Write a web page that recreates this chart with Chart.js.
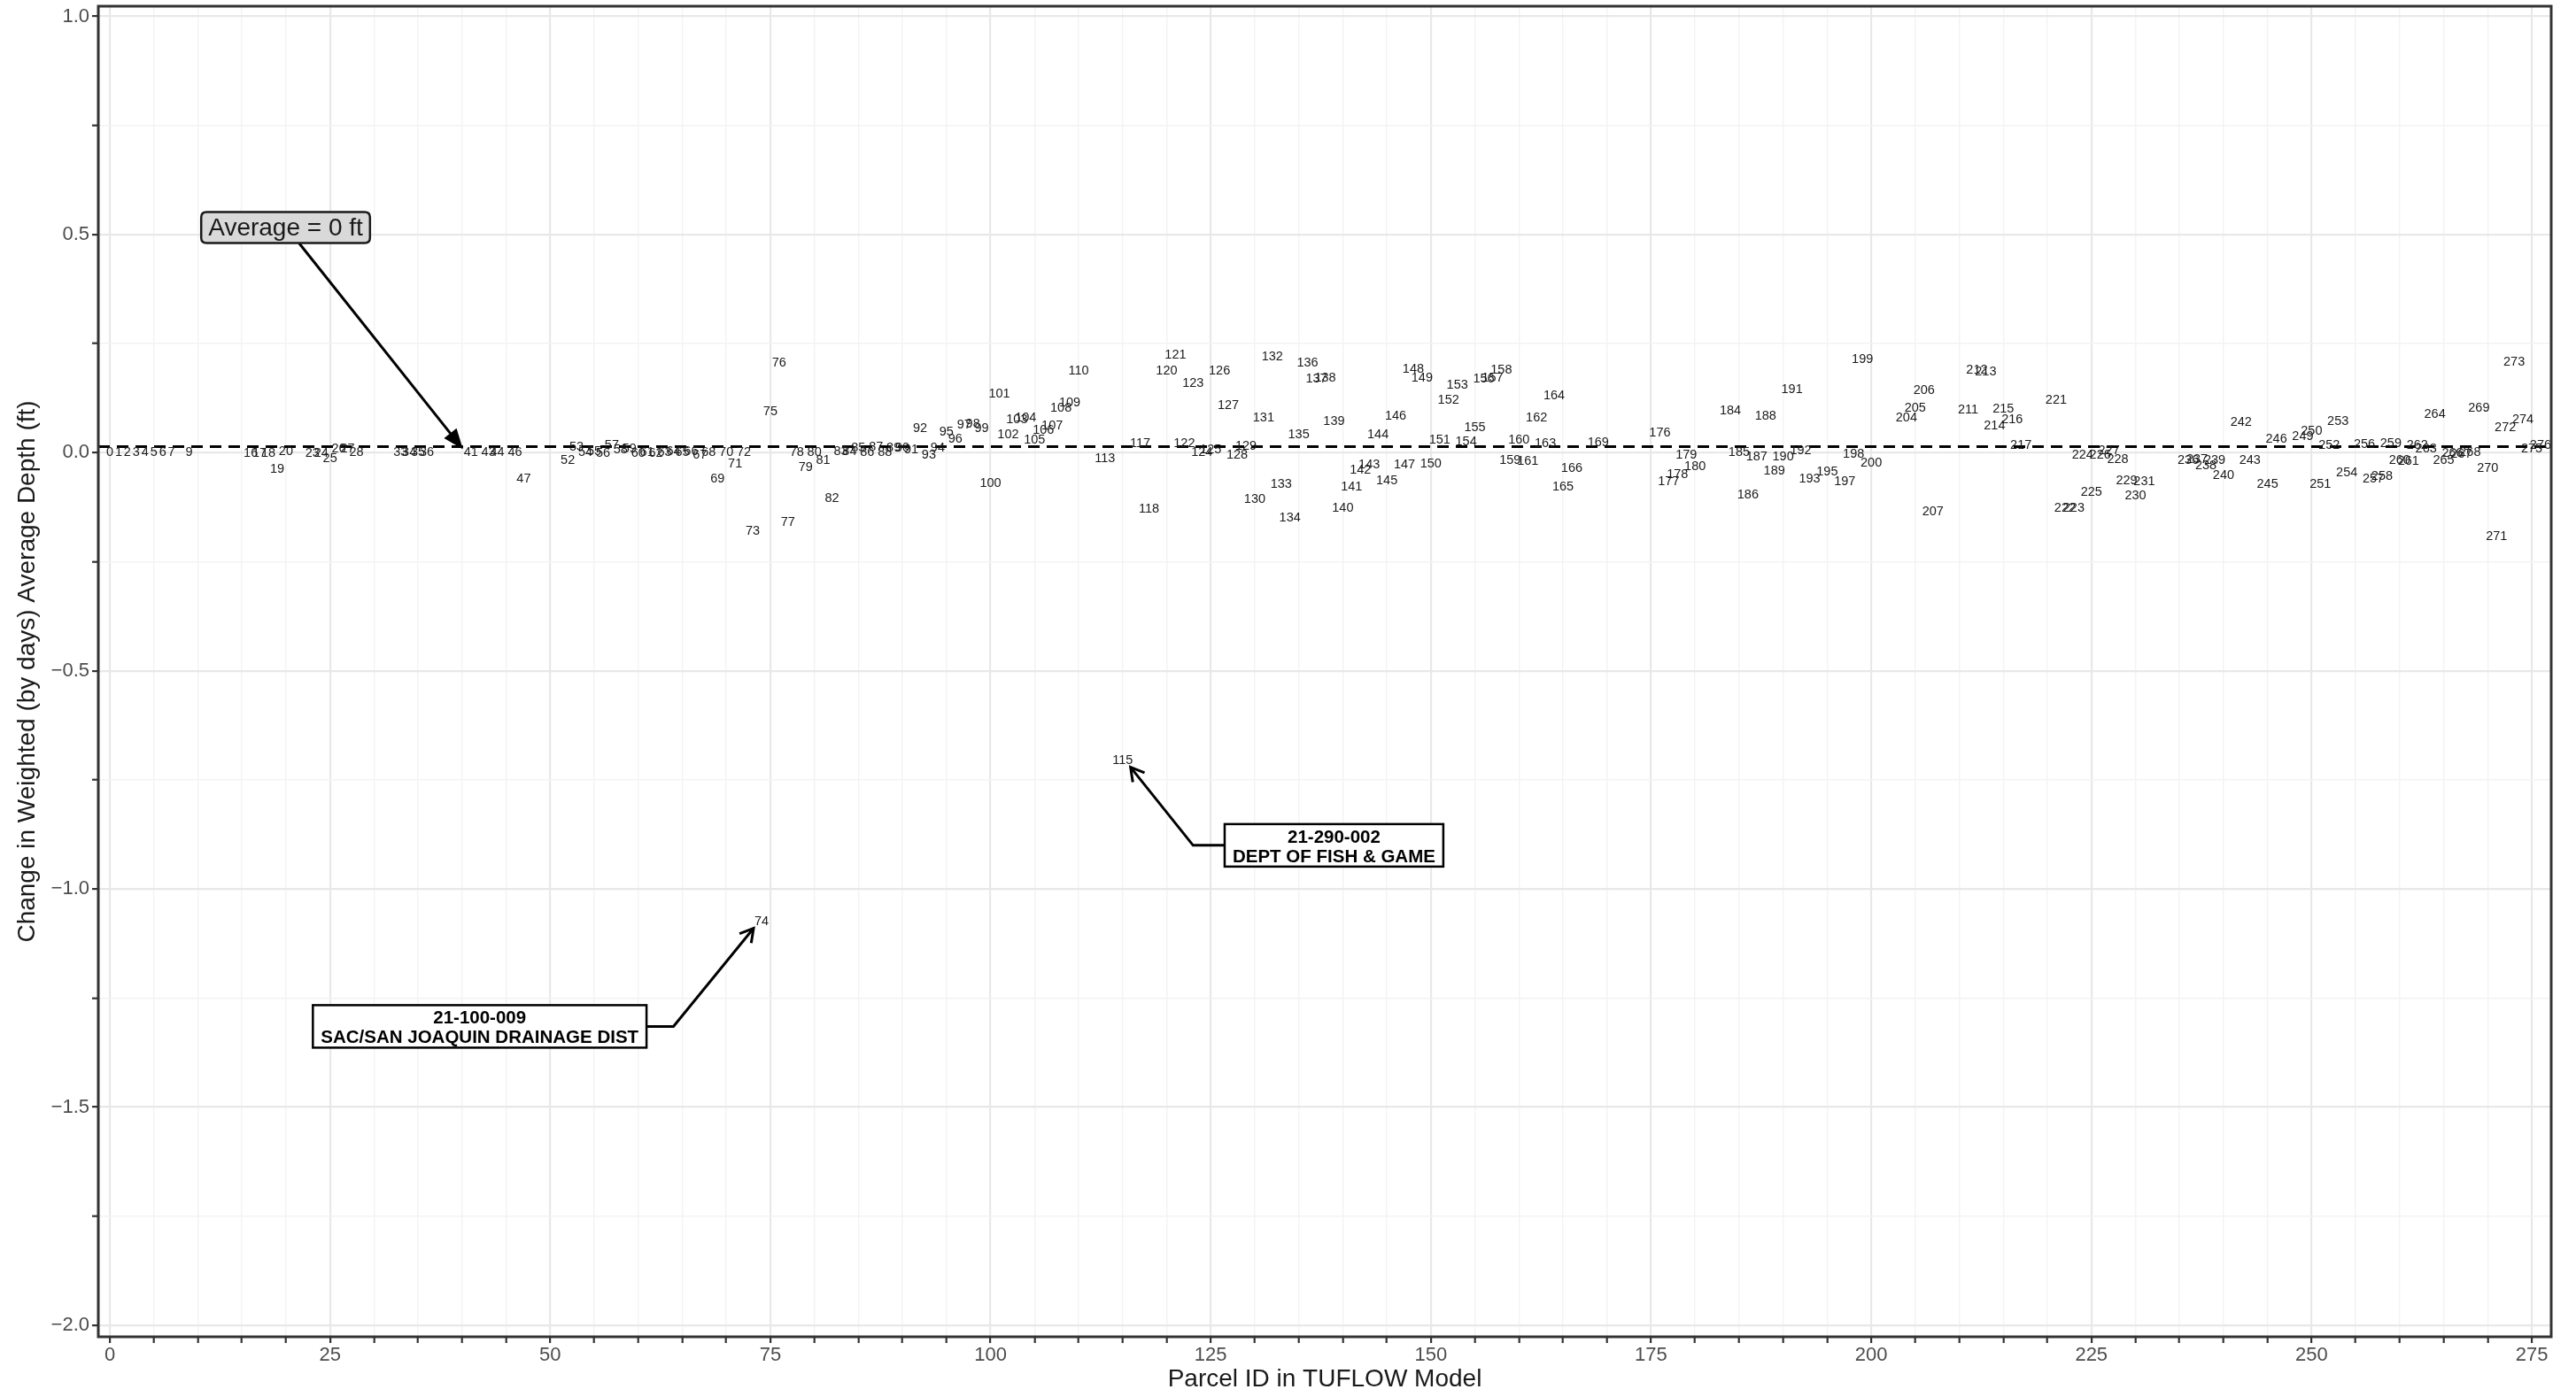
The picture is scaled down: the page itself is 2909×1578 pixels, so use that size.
<!DOCTYPE html>
<html>
<head>
<meta charset="utf-8">
<script src="https://cdn.jsdelivr.net/npm/chart.js@4.4.1/dist/chart.umd.min.js"></script>
<style>
  html, body { margin: 0; padding: 0; background: #ffffff; }
  #wrap { width: 2909px; height: 1578px; }
</style>
</head>
<body>
<div id="wrap"><canvas id="chart" width="2909" height="1578"></canvas></div>
<script>
// Parcel IDs present in the model run and the change in day-weighted average depth (ft)
const parcelIds = [
  0, 1, 2, 3, 4, 5, 6, 7, 9, 16, 17, 18, 19, 20, 23, 24, 25, 26, 27, 28,
  33, 34, 35, 36, 41, 43, 44, 46, 47, 52, 53, 54, 55, 56, 57, 58, 59, 60,
  61, 62, 63, 64, 65, 66, 67, 68, 69, 70, 71, 72, 73, 74, 75, 76, 77, 78,
  79, 80, 81, 82, 83, 84, 85, 86, 87, 88, 89, 90, 91, 92, 93, 94, 95, 96,
  97, 98, 99, 100, 101, 102, 103, 104, 105, 106, 107, 108, 109, 110, 113,
  115, 117, 118, 120, 121, 122, 123, 124, 125, 126, 127, 128, 129, 130,
  131, 132, 133, 134, 135, 136, 137, 138, 139, 140, 141, 142, 143, 144,
  145, 146, 147, 148, 149, 150, 151, 152, 153, 154, 155, 156, 157, 158,
  159, 160, 161, 162, 163, 164, 165, 166, 169, 176, 177, 178, 179, 180,
  184, 185, 186, 187, 188, 189, 190, 191, 192, 193, 195, 197, 198, 199,
  200, 204, 205, 206, 207, 211, 212, 213, 214, 215, 216, 217, 221, 222,
  223, 224, 225, 226, 227, 228, 229, 230, 231, 236, 237, 238, 239, 240,
  242, 243, 245, 246, 249, 250, 251, 252, 253, 254, 256, 257, 258, 259,
  260, 261, 262, 263, 264, 265, 266, 267, 268, 269, 270, 271, 272, 273,
  274, 275, 276
];

const depthChange = [
  0.000, 0.000, 0.000, 0.000, 0.000, 0.000, 0.000, 0.000, 0.000, -0.001, -0.001, -0.001, -0.037, 0.002, -0.001, -0.001, -0.013, 0.009, 0.009, 0.000,
  0.000, 0.000, 0.000, 0.000, 0.000, 0.000, 0.000, 0.000, -0.061, -0.017, 0.013, 0.000, 0.003, -0.001, 0.017, 0.006, 0.008, -0.002,
  0.000, -0.001, 0.001, 0.002, 0.000, 0.002, -0.006, 0.000, -0.061, 0.001, -0.025, 0.000, -0.179, -1.075, 0.093, 0.206, -0.159, 0.000,
  -0.034, 0.000, -0.017, -0.105, 0.003, 0.003, 0.010, 0.000, 0.013, 0.000, 0.010, 0.010, 0.007, 0.055, -0.005, 0.010, 0.047, 0.032,
  0.063, 0.066, 0.055, -0.070, 0.135, 0.041, 0.076, 0.079, 0.030, 0.052, 0.062, 0.103, 0.115, 0.188, -0.014,
  -0.705, 0.020, -0.130, 0.188, 0.224, 0.020, 0.159, 0.001, 0.007, 0.188, 0.108, -0.005, 0.014, -0.106,
  0.080, 0.219, -0.073, -0.149, 0.041, 0.206, 0.169, 0.172, 0.072, -0.127, -0.078, -0.039, -0.027, 0.041,
  -0.064, 0.084, -0.027, 0.191, 0.171, -0.025, 0.030, 0.120, 0.155, 0.024, 0.057, 0.169, 0.171, 0.189,
  -0.018, 0.030, -0.020, 0.079, 0.020, 0.130, -0.079, -0.035, 0.022, 0.046, -0.066, -0.051, -0.005, -0.032,
  0.095, 0.000, -0.097, -0.009, 0.084, -0.041, -0.009, 0.144, 0.005, -0.061, -0.044, -0.066, -0.003, 0.214,
  -0.024, 0.080, 0.103, 0.143, -0.135, 0.098, 0.189, 0.186, 0.062, 0.101, 0.076, 0.017, 0.120, -0.128,
  -0.127, -0.005, -0.090, -0.005, 0.004, -0.016, -0.064, -0.098, -0.067, -0.018, -0.015, -0.030, -0.017, -0.053,
  0.069, -0.017, -0.073, 0.032, 0.037, 0.049, -0.073, 0.017, 0.072, -0.046, 0.018, -0.061, -0.054, 0.020,
  -0.018, -0.020, 0.017, 0.009, 0.088, -0.017, -0.001, -0.003, 0.001, 0.103, -0.036, -0.193, 0.057, 0.207,
  0.076, 0.009, 0.017
];

// Level of the dashed reference line (ft)
const averageLevel = 0.014;

// Axis ticks
const xTicks = [0, 5, 10, 15, 20, 25, 30, 35, 40, 45, 50, 55, 60, 65, 70, 75, 80, 85, 90, 95,
  100, 105, 110, 115, 120, 125, 130, 135, 140, 145, 150, 155, 160, 165, 170, 175, 180, 185, 190, 195,
  200, 205, 210, 215, 220, 225, 230, 235, 240, 245, 250, 255, 260, 265, 270, 275];
const xTickLabels = [0, 25, 50, 75, 100, 125, 150, 175, 200, 225, 250, 275];
const yTicks = [-2, -1.75, -1.5, -1.25, -1, -0.75, -0.5, -0.25, 0, 0.25, 0.5, 0.75, 1];
const yTickLabels = [-2, -1.5, -1, -0.5, 0, 0.5, 1];

const FONT = "'Liberation Sans', Arial, Helvetica, sans-serif";

// Callout boxes with their leader arrows (data units)
const callouts = [
  { lines: ['21-290-002', 'DEPT OF FISH & GAME'], cx: 139.0, cy: -0.900, elbowX: 123.0, tipX: 115.9, tipY: -0.721 },
  { lines: ['21-100-009', 'SAC/SAN JOAQUIN DRAINAGE DIST'], cx: 42.0, cy: -1.315, elbowX: 64.0, tipX: 73.1, tipY: -1.090 }
];
const averageNote = { text: 'Average = 0 ft', cx: 19.96, cy: 0.516, fromX: 21.5, fromY: 0.480, tipX: 40.1, tipY: averageLevel - 0.006 };

function openHead(ctx, x0, y0, x1, y1, len) {
  const a = Math.atan2(y1 - y0, x1 - x0);
  ctx.beginPath();
  ctx.moveTo(x1 - len * Math.cos(a - Math.PI / 6), y1 - len * Math.sin(a - Math.PI / 6));
  ctx.lineTo(x1, y1);
  ctx.lineTo(x1 - len * Math.cos(a + Math.PI / 6), y1 - len * Math.sin(a + Math.PI / 6));
  ctx.stroke();
}

function closedHead(ctx, x0, y0, x1, y1, len, half) {
  const a = Math.atan2(y1 - y0, x1 - x0);
  const bx = x1 - len * Math.cos(a), by = y1 - len * Math.sin(a);
  ctx.beginPath();
  ctx.moveTo(x1, y1);
  ctx.lineTo(bx + half * Math.sin(a), by - half * Math.cos(a));
  ctx.lineTo(bx - half * Math.sin(a), by + half * Math.cos(a));
  ctx.closePath();
  ctx.fill();
}

function roundRect(ctx, x, y, w, h, r) {
  ctx.beginPath();
  ctx.moveTo(x + r, y);
  ctx.lineTo(x + w - r, y);
  ctx.quadraticCurveTo(x + w, y, x + w, y + r);
  ctx.lineTo(x + w, y + h - r);
  ctx.quadraticCurveTo(x + w, y + h, x + w - r, y + h);
  ctx.lineTo(x + r, y + h);
  ctx.quadraticCurveTo(x, y + h, x, y + h - r);
  ctx.lineTo(x, y + r);
  ctx.quadraticCurveTo(x, y, x + r, y);
  ctx.closePath();
}

const overlay = {
  id: 'overlay',
  beforeDatasetsDraw(chart) {
    const { ctx, chartArea: ca, scales: { y } } = chart;
    const py = y.getPixelForValue(averageLevel);
    ctx.save();
    ctx.strokeStyle = '#000000';
    ctx.lineWidth = 3;
    ctx.setLineDash([13, 8]);
    ctx.beginPath();
    ctx.moveTo(ca.left, py);
    ctx.lineTo(ca.right, py);
    ctx.stroke();
    ctx.restore();
  },
  afterDatasetsDraw(chart) {
    const { ctx, scales: { x, y } } = chart;
    const meta = chart.getDatasetMeta(0);

    // parcel number at each point
    ctx.save();
    ctx.fillStyle = '#1a1a1a';
    ctx.font = `14.5px ${FONT}`;
    ctx.textAlign = 'center';
    ctx.textBaseline = 'middle';
    meta.data.forEach((pt, i) => {
      ctx.fillText(String(parcelIds[i]), pt.x, pt.y);
    });
    ctx.restore();

    // "Average" note with filled arrow
    ctx.save();
    ctx.strokeStyle = '#000';
    ctx.fillStyle = '#000';
    ctx.lineWidth = 3;
    const ax0 = x.getPixelForValue(averageNote.fromX), ay0 = y.getPixelForValue(averageNote.fromY);
    const ax1 = x.getPixelForValue(averageNote.tipX), ay1 = y.getPixelForValue(averageNote.tipY);
    const ang = Math.atan2(ay1 - ay0, ax1 - ax0);
    ctx.beginPath();
    ctx.moveTo(ax0, ay0);
    ctx.lineTo(ax1 - 8 * Math.cos(ang), ay1 - 8 * Math.sin(ang));
    ctx.stroke();
    closedHead(ctx, ax0, ay0, ax1, ay1, 23, 9);
    ctx.font = `28px ${FONT}`;
    const tw = ctx.measureText(averageNote.text).width;
    const bw = tw + 16, bh = 35;
    const bcx = x.getPixelForValue(averageNote.cx), bcy = y.getPixelForValue(averageNote.cy);
    roundRect(ctx, bcx - bw / 2, bcy - bh / 2, bw, bh, 6);
    ctx.fillStyle = '#d9d9d9';
    ctx.fill();
    ctx.lineWidth = 2.5;
    ctx.strokeStyle = '#1a1a1a';
    ctx.stroke();
    ctx.fillStyle = '#1a1a1a';
    ctx.textAlign = 'center';
    ctx.textBaseline = 'middle';
    ctx.fillText(averageNote.text, bcx, bcy + 1);
    ctx.restore();

    // parcel callouts
    callouts.forEach(c => {
      ctx.save();
      ctx.font = `bold 20.5px ${FONT}`;
      const w = Math.max(...c.lines.map(l => ctx.measureText(l).width)) + 18;
      const h = 48;
      const cx = x.getPixelForValue(c.cx), cy = y.getPixelForValue(c.cy);
      const ex = x.getPixelForValue(c.elbowX);
      const tx = x.getPixelForValue(c.tipX), ty = y.getPixelForValue(c.tipY);
      const edge = ex > cx ? cx + w / 2 : cx - w / 2;
      ctx.strokeStyle = '#000';
      ctx.lineWidth = 3;
      ctx.beginPath();
      ctx.moveTo(edge, cy);
      ctx.lineTo(ex, cy);
      ctx.lineTo(tx, ty);
      ctx.stroke();
      openHead(ctx, ex, cy, tx, ty, 17);
      ctx.fillStyle = '#ffffff';
      ctx.fillRect(cx - w / 2, cy - h / 2, w, h);
      ctx.lineWidth = 2.5;
      ctx.strokeRect(cx - w / 2, cy - h / 2, w, h);
      ctx.fillStyle = '#000';
      ctx.textAlign = 'center';
      ctx.textBaseline = 'middle';
      ctx.fillText(c.lines[0], cx, cy - 9);
      ctx.fillText(c.lines[1], cx, cy + 13);
      ctx.restore();
    });
  },
  afterDraw(chart) {
    const { ctx, chartArea: ca } = chart;
    ctx.save();
    ctx.strokeStyle = '#333333';
    ctx.lineWidth = 3;
    ctx.strokeRect(ca.left, ca.top, ca.right - ca.left, ca.bottom - ca.top);
    ctx.restore();
  }
};

const fmtY = v => (v < 0 ? '\u2212' : '') + Math.abs(v).toFixed(1);

new Chart(document.getElementById('chart').getContext('2d'), {
  type: 'scatter',
  data: {
    datasets: [{
      data: parcelIds.map((id, i) => ({ x: id, y: depthChange[i] })),
      pointRadius: 0,
      pointHoverRadius: 0,
      showLine: false
    }]
  },
  options: {
    responsive: false,
    animation: false,
    devicePixelRatio: 1,
    events: [],
    layout: { padding: { top: 7, right: 28, left: 0, bottom: 0 } },
    plugins: { legend: { display: false }, tooltip: { enabled: false } },
    scales: {
      x: {
        type: 'linear',
        min: -1.307,
        max: 277.21,
        afterBuildTicks: s => { s.ticks = xTicks.map(v => ({ value: v })); },
        afterFit: s => { s.height = 68; s.paddingLeft = 0; s.paddingRight = 0; },
        ticks: {
          autoSkip: false,
          maxRotation: 0,
          color: '#4d4d4d',
          padding: 1,
          font: { family: FONT, size: 22 },
          callback: v => (xTickLabels.includes(v) ? String(v) : '')
        },
        grid: {
          color: c => (c.tick && xTickLabels.includes(c.tick.value) ? '#e8e8e8' : '#f3f3f3'),
          lineWidth: c => (c.tick && xTickLabels.includes(c.tick.value) ? 2.2 : 1.4),
          tickColor: '#333333',
          tickLength: 7,
          tickWidth: 2.2
        },
        border: { display: false },
        title: {
          display: true,
          text: 'Parcel ID in TUFLOW Model',
          color: '#1a1a1a',
          font: { family: FONT, size: 28 },
          padding: { top: 0, bottom: 3 }
        }
      },
      y: {
        type: 'linear',
        min: -2.0264,
        max: 1.0233,
        afterBuildTicks: s => { s.ticks = yTicks.map(v => ({ value: v })); },
        afterFit: s => { s.width = 111; s.paddingTop = 0; s.paddingBottom = 0; },
        ticks: {
          autoSkip: false,
          color: '#4d4d4d',
          padding: 3,
          font: { family: FONT, size: 22 },
          callback: v => (yTickLabels.includes(v) ? fmtY(v) : '')
        },
        grid: {
          color: c => (c.tick && yTickLabels.includes(c.tick.value) ? '#e8e8e8' : '#f3f3f3'),
          lineWidth: c => (c.tick && yTickLabels.includes(c.tick.value) ? 2.2 : 1.4),
          tickColor: '#333333',
          tickLength: 7,
          tickWidth: 2.2
        },
        border: { display: false },
        title: {
          display: true,
          text: 'Change in Weighted (by days) Average Depth (ft)',
          color: '#1a1a1a',
          font: { family: FONT, size: 28 },
          padding: { top: 14, bottom: 0 }
        }
      }
    }
  },
  plugins: [overlay]
});
</script>
</body>
</html>
